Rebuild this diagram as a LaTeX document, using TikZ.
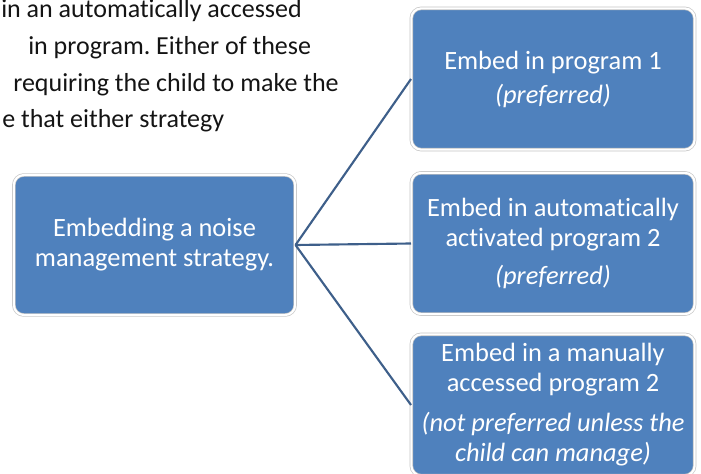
\documentclass[tikz,border=0pt]{standalone}
\usepackage{fontspec}
\setmainfont[Ligatures={NoCommon}]{Carlito}
\frenchspacing
\definecolor{boxfill}{RGB}{79,129,189}
\definecolor{boxedge}{RGB}{196,196,196}
\definecolor{linkcol}{RGB}{62,95,138}
\definecolor{bodytext}{RGB}{20,20,20}
\begin{document}
\begin{tikzpicture}[x=0.75pt,y=-0.75pt,
  box/.style={draw=boxedge, double=white, double distance=1.6pt, line width=0.5pt,
    fill=boxfill, rounded corners=7.5pt, text=white, align=center, inner sep=2pt,
    font=\fontsize{19.8}{22.5}\selectfont},
  leftbox/.style={box, minimum width=211pt, minimum height=105pt},
  rightbox/.style={box, minimum width=212.5pt, minimum height=106pt},
  link/.style={draw=linkcol, line width=1.6pt},
  bodyline/.style={anchor=base west, inner sep=0pt, text=bodytext,
    font=\fontsize{19.5}{22}\selectfont}]
\useasboundingbox (0,0) rectangle (701,474);
\clip (0,0) rectangle (701,474);

% partially visible paragraph above the diagram
\node[bodyline] (t1) at (1,18)  {in an automatically accessed};
\node[bodyline] (t2) at (28,55) {in program. Either of these};
\node[bodyline] (t3) at (13,92) {requiring the child to make the};
\node[bodyline] (t4) at (2,128) {e that either strategy};

% boxes
\node[leftbox]  (root) at (154.5,245) {Embedding a noise\\management strategy.};
\node[rightbox] (p1) at (553,79) {Embed in program 1\\[3pt]\textit{(preferred)}};
\node[rightbox] (p2) at (553,243.5) {Embed in automatically\\activated program 2\\[6pt]\textit{(preferred)}};
\node[rightbox] (p3) at (553,405) {Embed in a manually\\accessed program 2\\[7.5pt]\textit{(not preferred unless the}\\\textit{child can manage)}};

% connectors
\draw[link] (root.east) -- (p1.west);
\draw[link] (root.east) -- (p2.west);
\draw[link] (root.east) -- (p3.west);
\end{tikzpicture}
\end{document}
